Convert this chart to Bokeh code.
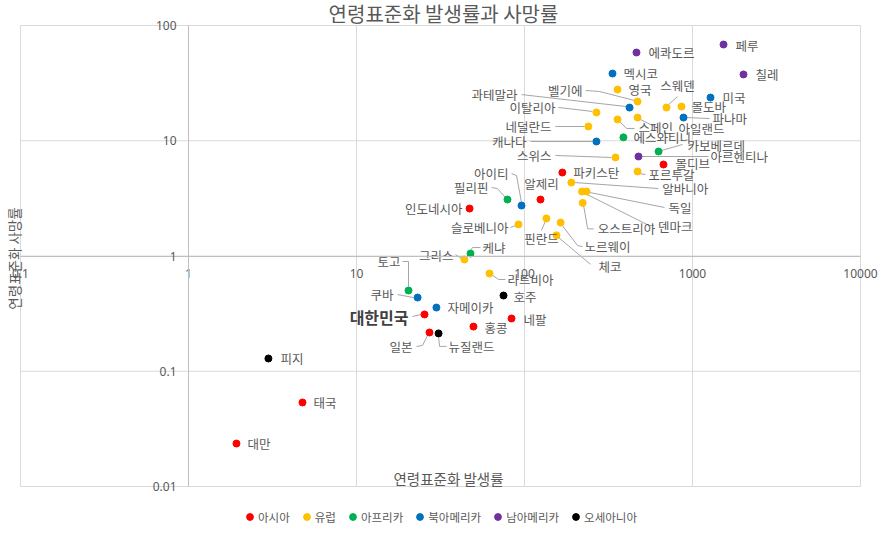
import math
from bokeh.plotting import figure
from bokeh.models import (ColumnDataSource, Label, Legend, LegendItem, FixedTicker,
                          BasicTickFormatter)
from bokeh.embed import file_html
from bokeh.resources import INLINE
from bokeh.core.properties import value

# ---------------- data ----------------
regions = ["아시아", "유럽", "아프리카", "북아메리카", "남아메리카", "오세아니아"]
region_colors = ["#FF0000", "#FFC000", "#00B050", "#0070C0", "#7030A0", "#000000"]

asia_names = ["인도네시아", "알제리", "파키스탄", "몰디브", "대한민국", "네팔", "홍콩", "일본", "태국", "대만"]
asia_incidence = [47.1, 124.5, 168, 672, 25.4, 83.7, 49.7, 27.2, 4.77, 1.93]
asia_mortality = [2.58, 3.09, 5.30, 6.22, 0.311, 0.287, 0.244, 0.217, 0.0536, 0.0236]

europe_names = ["영국", "벨기에", "이탈리아", "스페인", "아일랜드", "네덜란드", "스위스", "스웨덴",
                "몰도바", "포르투갈", "알바니아", "독일", "덴마크", "오스트리아", "핀란드", "노르웨이",
                "슬로베니아", "체코", "그리스", "라트비아"]
europe_incidence = [358, 471, 268, 358, 471, 240, 348, 700, 860, 471, 190, 234, 220, 222, 135, 164,
                    92.1, 155, 43.9, 61.9]
europe_mortality = [27.8, 21.9, 17.6, 15.3, 15.9, 13.3, 7.16, 19.4, 19.8, 5.41, 4.34, 3.63, 3.63, 2.89,
                    2.12, 1.95, 1.88, 1.51, 0.932, 0.705]

africa_names = ["에스와티니", "카보베르데", "필리핀", "케냐", "토고"]
africa_incidence = [388, 628, 79.2, 47.7, 20.4]
africa_mortality = [10.7, 8.07, 3.09, 1.05, 0.502]

namerica_names = ["멕시코", "과테말라", "캐나다", "미국", "파나마", "아이티", "쿠바", "자메이카"]
namerica_incidence = [334, 422, 268, 1280, 884, 96, 23.1, 29.9]
namerica_mortality = [38.3, 19.4, 9.85, 23.7, 15.9, 2.74, 0.436, 0.357]

samerica_names = ["에콰도르", "페루", "칠레", "아르헨티나"]
samerica_incidence = [464, 1530, 2012, 477]
samerica_mortality = [58.3, 68.4, 37.6, 7.30]

oceania_names = ["호주", "뉴질랜드", "피지"]
oceania_incidence = [75, 30.8, 2.99]
oceania_mortality = [0.454, 0.213, 0.129]

axis_ticks_x = [0.1, 1, 10, 100, 1000, 10000]
axis_ticks_y = [0.01, 0.1, 1, 10, 100]
axis_cross = 1

title_text = "연령표준화 발생률과 사망률"
x_title = "연령표준화 발생률"
y_title = "연령표준화 사망률"

# ---------------- layout / style ----------------
PLOT_W, PLOT_H = 881, 534
AREA_L, AREA_R, AREA_T, AREA_B = 20, 21, 25, 48     # plot-area margins in pixels
X_LIM = (axis_ticks_x[0], axis_ticks_x[-1])
Y_LIM = (axis_ticks_y[0], axis_ticks_y[-1])
PX_PER_DEC_X = (PLOT_W - AREA_L - AREA_R) / math.log10(X_LIM[1] / X_LIM[0])
PX_PER_DEC_Y = (PLOT_H - AREA_T - AREA_B) / math.log10(Y_LIM[1] / Y_LIM[0])
X_RANGE = (X_LIM[0] / 10 ** (AREA_L / PX_PER_DEC_X), X_LIM[1] * 10 ** (AREA_R / PX_PER_DEC_X))
Y_RANGE = (Y_LIM[0] / 10 ** (AREA_B / PX_PER_DEC_Y), Y_LIM[1] * 10 ** (AREA_T / PX_PER_DEC_Y))

FONT = "Noto Sans CJK KR"
TEXT_COLOR = "#595959"
GRID_COLOR = "#d9d9d9"
AXIS_COLOR = "#bfbfbf"
LEADER_COLOR = "#a6a6a6"

# label placement (pixel offsets from the point), alignment, leader path (pixel offsets)
LABEL_STYLE = {
    "에콰도르": (12, 0, "left", None),
    "페루": (12, 1, "left", None),
    "멕시코": (11, 0, "left", None),
    "칠레": (12, 0, "left", None),
    "영국": (11, 0, "left", None),
    "스웨덴": (11, -22, "center", [(1, -2), (11, -11)]),
    "미국": (12, 0, "left", None),
    "몰도바": (10, 0, "left", None),
    "파나마": (29, 1, "left", [(3, 0), (26, 1)]),
    "벨기에": (-55, -11, "right", [(-52, -11), (-38, -10), (-3, -1)]),
    "과테말라": (-112, -13, "right", [(-108, -13), (-3, -1)]),
    "이탈리아": (-41, -5, "right", [(-38, -5), (-4, -1)]),
    "네덜란드": (-37, 0, "right", [(-33, 0), (-4, 0)]),
    "캐나다": (-70, 0, "right", [(-66, 0), (-4, 0)]),
    "스위스": (-64, -2, "right", [(-60, -2), (-4, 0)]),
    "스페인": (21, 8, "left", [(2, 2), (9, 9), (17, 9)]),
    "아일랜드": (41, 11, "left", [(3, 2), (17, 9)]),
    "에스와티니": (10, 0, "left", None),
    "카보베르데": (29, -6, "left", [(3, -1), (24, -7)]),
    "아르헨티나": (72, 0, "left", [(3, 0), (70, 0)]),
    "몰디브": (12, -1, "left", None),
    "포르투갈": (11, 3, "left", [(2, 2), (8, 3)]),
    "파키스탄": (11, 0, "left", None),
    "알바니아": (91, 6, "left", [(3, 0), (87, 6)]),
    "독일": (82, 16, "left", [(3, 1), (78, 16)]),
    "덴마크": (76, 35, "left", [(3, 2), (67, 34), (72, 34)]),
    "오스트리아": (15, 26, "left", [(1, 3), (5, 26), (11, 26)]),
    "알제리": (1, -16, "center", None),
    "아이티": (-13, -32, "right", [(-10, -32), (-5, -30), (0, -3)]),
    "필리핀": (-19, -12, "right", [(-16, -12), (-10, -11), (-2, -2)]),
    "인도네시아": (-7, 0, "right", None),
    "슬로베니아": (-10, 3, "right", [(-8, 3), (-2, 1)]),
    "핀란드": (-5, 20, "center", [(-1, 3), (-5, 12)]),
    "노르웨이": (24, 24, "left", [(1, 2), (17, 23), (22, 24)]),
    "체코": (42, 31, "left", [(2, 2), (34, 29)]),
    "케냐": (12, -6, "left", [(0, -3), (2, -6), (10, -6)]),
    "그리스": (-11, -4, "right", [(-9, -5), (-3, -1)]),
    "라트비아": (18, 6, "left", [(2, 1), (9, 6), (16, 6)]),
    "토고": (-8, -29, "right", [(-6, -29), (0, -29), (0, -4)]),
    "쿠바": (-24, -3, "right", [(-20, -3), (-4, 0)]),
    "호주": (10, 1, "left", None),
    "자메이카": (11, 0, "left", None),
    "대한민국": (-16, 3, "right", [(-12, 2), (-3, 0)]),
    "네팔": (12, 1, "left", None),
    "홍콩": (11, 1, "left", None),
    "일본": (-17, 14, "right", [(-2, 3), (-7, 13), (-13, 14)]),
    "뉴질랜드": (10, 13, "left", [(0, 3), (1, 13), (8, 13)]),
    "피지": (12, 0, "left", None),
    "태국": (11, 0, "left", None),
    "대만": (11, 0, "left", None),
}
HIGHLIGHT = "대한민국"


def shift(x, y, ox, oy):
    """Move a data point by a pixel offset on the log scales."""
    return x * 10 ** (ox / PX_PER_DEC_X), y * 10 ** (-oy / PX_PER_DEC_Y)


series = [
    (asia_names, asia_incidence, asia_mortality),
    (europe_names, europe_incidence, europe_mortality),
    (africa_names, africa_incidence, africa_mortality),
    (namerica_names, namerica_incidence, namerica_mortality),
    (samerica_names, samerica_incidence, samerica_mortality),
    (oceania_names, oceania_incidence, oceania_mortality),
]

p = figure(width=PLOT_W, height=PLOT_H, x_axis_type="log", y_axis_type="log",
           x_range=X_RANGE, y_range=Y_RANGE, output_backend="svg", toolbar_location=None,
           min_border=0, min_border_left=0, min_border_right=0,
           min_border_top=0, min_border_bottom=0)

p.outline_line_color = None
p.background_fill_color = "white"
p.border_fill_color = "white"
p.xgrid.visible = False
p.ygrid.visible = False

# plot-area grid (limited to the plot area, like the original)
p.segment(x0=axis_ticks_x, y0=[Y_LIM[0]] * len(axis_ticks_x),
          x1=axis_ticks_x, y1=[Y_LIM[1]] * len(axis_ticks_x),
          line_color=GRID_COLOR, line_width=1)
p.segment(x0=[X_LIM[0]] * len(axis_ticks_y), y0=axis_ticks_y,
          x1=[X_LIM[1]] * len(axis_ticks_y), y1=axis_ticks_y,
          line_color=GRID_COLOR, line_width=1)

xt = FixedTicker(ticks=axis_ticks_x)
yt = FixedTicker(ticks=axis_ticks_y)
for ax, tk, lim in ((p.xaxis[0], xt, X_LIM), (p.yaxis[0], yt, Y_LIM)):
    ax.ticker = tk
    ax.formatter = BasicTickFormatter(use_scientific=False)
    ax.fixed_location = axis_cross
    ax.bounds = lim
    ax.axis_line_color = AXIS_COLOR
    ax.major_tick_line_color = None
    ax.minor_tick_line_color = None
    ax.major_label_text_color = TEXT_COLOR
    ax.major_label_text_font = "Noto Sans"
    ax.major_label_text_font_size = "12px"
p.xaxis[0].major_label_standoff = 7
p.yaxis[0].major_label_standoff = 6

# leader lines
lx, ly = [], []
for names, xs, ys in series:
    for n, x, y in zip(names, xs, ys):
        path = LABEL_STYLE[n][3]
        if path:
            pts = [shift(x, y, ox, oy) for ox, oy in path]
            lx.append([q[0] for q in pts])
            ly.append([q[1] for q in pts])
p.multi_line(lx, ly, line_color=LEADER_COLOR, line_width=1)

# points
legend_items = []
for (names, xs, ys), reg, col in zip(series, regions, region_colors):
    src = ColumnDataSource(dict(x=xs, y=ys, name=names))
    r = p.scatter("x", "y", source=src, size=7, fill_color=col, line_color=col)
    legend_items.append(LegendItem(label=reg, renderers=[r]))

# labels
groups = {}
for names, xs, ys in series:
    for n, x, y in zip(names, xs, ys):
        dx, dy, align, _ = LABEL_STYLE[n]
        key = (align, n == HIGHLIGHT)
        g = groups.setdefault(key, dict(x=[], y=[], text=[], dx=[], dy=[]))
        g["x"].append(x); g["y"].append(y); g["text"].append(n)
        g["dx"].append(dx); g["dy"].append(dy)
for (align, hl), g in groups.items():
    p.text("x", "y", text="text", x_offset="dx", y_offset="dy", source=ColumnDataSource(g),
           text_align=align, text_baseline="middle", text_font=value(FONT),
           text_font_size="16px" if hl else "12.5px",
           text_font_style="bold" if hl else "normal",
           text_color="#404040" if hl else TEXT_COLOR)

# titles (screen units measured from the bottom-left of the canvas)
p.add_layout(Label(x=443, y=PLOT_H - 13, x_units="screen", y_units="screen", text=title_text,
                   text_align="center", text_baseline="middle", text_font=FONT,
                   text_font_size="20px", text_color=TEXT_COLOR))
p.add_layout(Label(x=448, y=PLOT_H - 478, x_units="screen", y_units="screen", text=x_title,
                   text_align="center", text_baseline="middle", text_font=FONT,
                   text_font_size="14.5px", text_color=TEXT_COLOR))
p.add_layout(Label(x=13, y=PLOT_H - 258, x_units="screen", y_units="screen", text=y_title,
                   angle=math.pi / 2, text_align="center", text_baseline="middle",
                   text_font=FONT, text_font_size="13.5px", text_color=TEXT_COLOR))

legend = Legend(items=legend_items, orientation="horizontal", location=(241, 9),
                glyph_width=17, glyph_height=17, label_standoff=0, spacing=8,
                padding=0, margin=0, border_line_color=None, background_fill_alpha=0,
                label_text_font=FONT, label_text_font_size="11.5px", label_text_color=TEXT_COLOR,
                label_height=17)
p.add_layout(legend, "center")

open("out.html", "w").write(file_html(p, INLINE))
